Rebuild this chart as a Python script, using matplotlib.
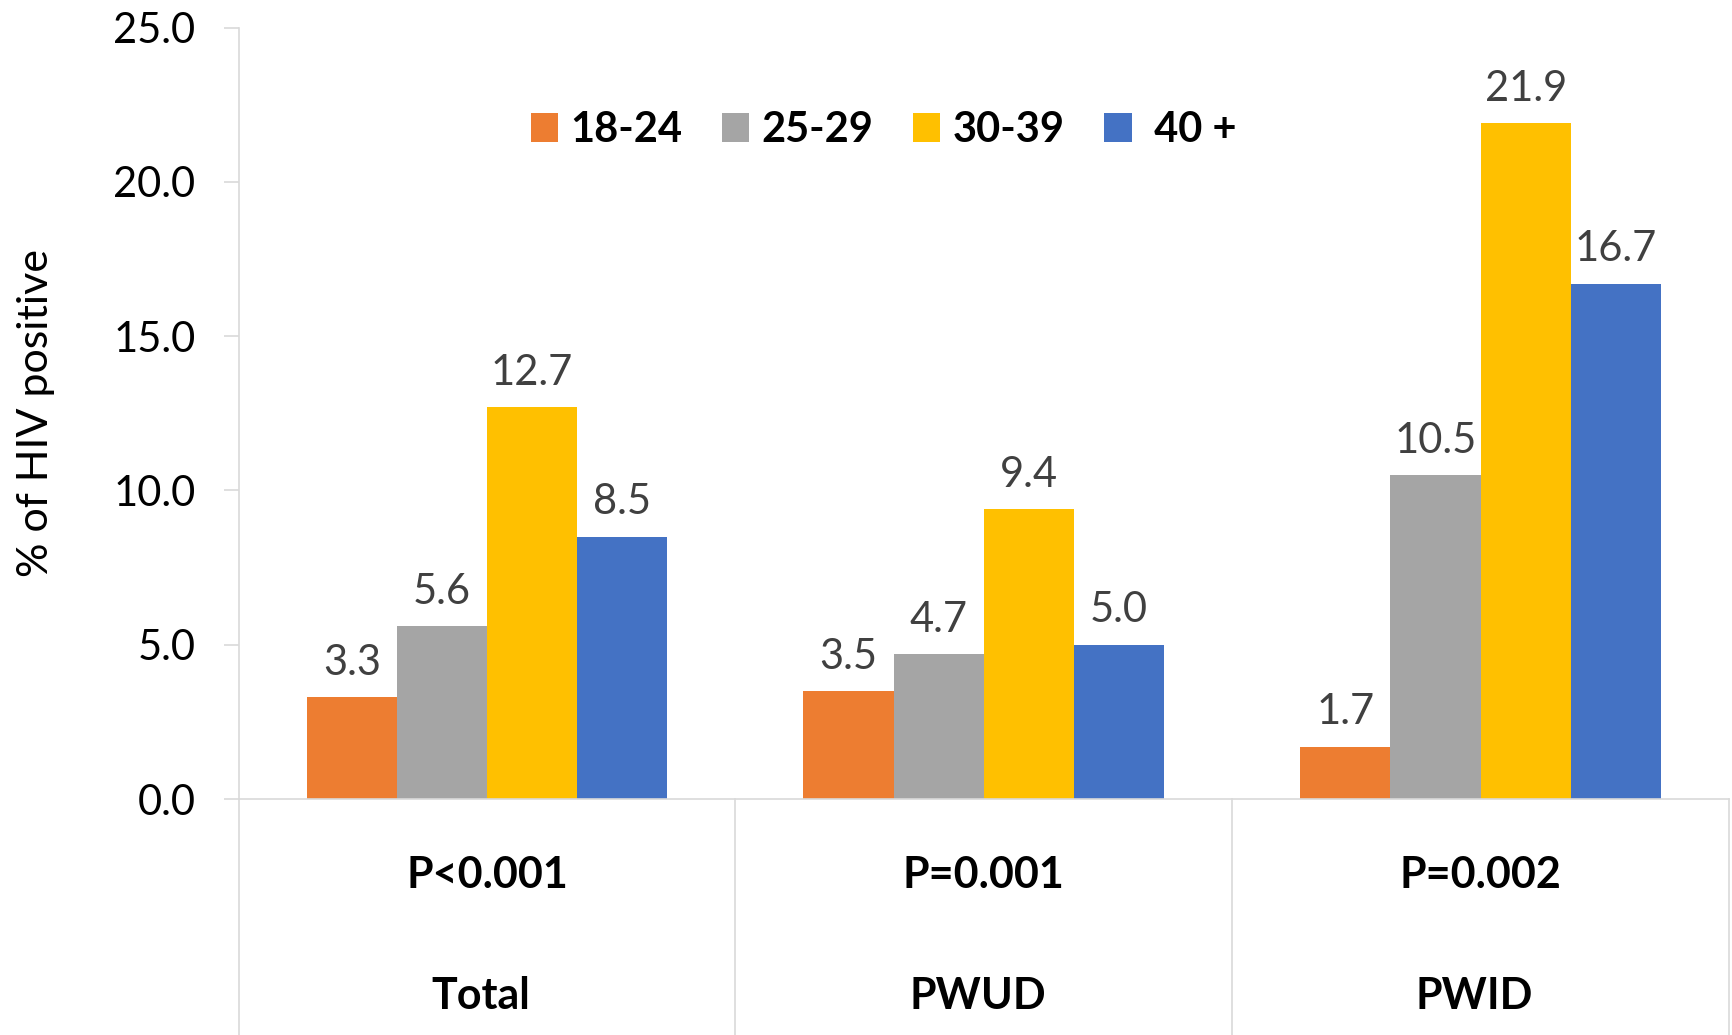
import matplotlib
matplotlib.use("Agg")
import matplotlib.pyplot as plt
import numpy as np

plt.rcParams['font.family'] = ['Lato', 'DejaVu Sans']

groups = ['Total', 'PWUD', 'PWID']
pvalues = ['P<0.001', 'P=0.001', 'P=0.002']
age_bands = ['18-24', '25-29', '30-39', ' 40 +']
hiv_pct = [
    [3.3, 3.5, 1.7],     # 18-24
    [5.6, 4.7, 10.5],    # 25-29
    [12.7, 9.4, 21.9],   # 30-39
    [8.5, 5.0, 16.7],    # 40 +
]
colors = ['#ED7D31', '#A5A5A5', '#FFC000', '#4472C4']
yticks = [0, 5, 10, 15, 20, 25]

grid_col = '#d9d9d9'
fs = 30

fig = plt.figure(figsize=(17.33, 10.35), dpi=100)
ax = fig.add_axes([0.1377, 0.228, 0.86, 0.7453])

x = np.arange(len(groups))
width = 0.726 / 4
for i, (band, vals) in enumerate(zip(age_bands, hiv_pct)):
    pos = x - 0.363 + width * (i + 0.5)
    bars = ax.bar(pos, vals, width, color=colors[i], label=band, zorder=2)
    ax.bar_label(bars, labels=[f'{v:.1f}' for v in vals], padding=11,
                 fontsize=fs, color='#404040')

ax.set_xlim(-0.5, 2.5)
ax.set_ylim(0, 25)
ax.set_yticks(yticks)
ax.set_yticklabels([f'{t:.1f}' for t in yticks], fontsize=fs)
ax.tick_params(axis='y', length=11, width=1.2, color=grid_col, pad=20)
ax.set_xticks([])
ax.set_ylabel('% of HIV positive', fontsize=fs + 1, labelpad=42)

for s in ['top', 'right']:
    ax.spines[s].set_visible(False)
for s in ['left', 'bottom']:
    ax.spines[s].set_color(grid_col)
    ax.spines[s].set_linewidth(1.2)

# category table below the axis
trans = ax.get_xaxis_transform()
for b in np.arange(-0.5, 2.6, 1.0):
    ax.plot([b, b], [0, -0.32], transform=trans, color=grid_col,
            lw=1.2, clip_on=False)
for xi, p, g in zip(x, pvalues, groups):
    ax.text(xi, -0.0985, p, transform=trans, ha='center', va='center',
            fontsize=fs + 1, fontweight='bold')
    ax.text(xi - 0.012, -0.256, g, transform=trans, ha='center', va='center',
            fontsize=fs + 1, fontweight='bold')

leg = ax.legend(loc='center', bbox_to_anchor=(0.51, 0.874),
                bbox_transform=fig.transFigure, ncol=4, frameon=False,
                handlelength=0.65, handleheight=0.7, handletextpad=0.3,
                columnspacing=0.95,
                prop={'size': fs, 'weight': 'bold'})

fig.savefig('out.png', dpi=100)
